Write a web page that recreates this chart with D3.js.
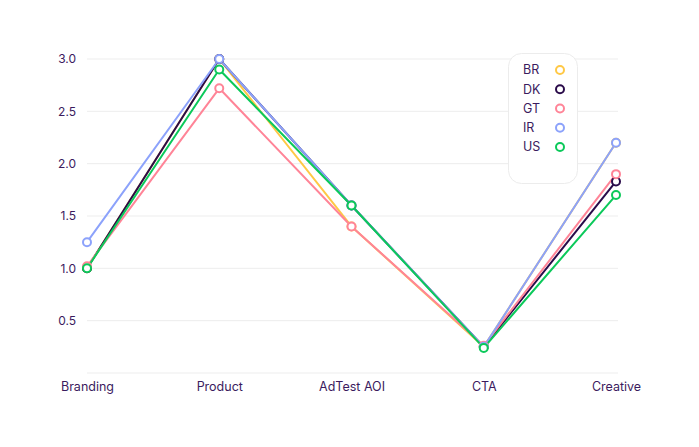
<!DOCTYPE html>
<html><head><meta charset="utf-8">
<script src="https://cdn.jsdelivr.net/npm/d3@7"></script>
<style>
html,body{margin:0;padding:0;background:#fff;}
svg{display:block;font-family:"Inter","Lato",sans-serif;}
</style></head>
<body><svg id="c" width="699" height="447"></svg>
<script>
const categories = ["Branding","Product","AdTest AOI","CTA","Creative"];
const seriesNames = ["BR","DK","GT","IR","US"];
const BR = [1.0, 3.0, 1.4, 0.25, 2.2];
const DK = [1.0, 3.0, 1.6, 0.25, 1.83];
const GT = [1.02, 2.72, 1.4, 0.26, 1.9];
const IR = [1.25, 3.0, 1.6, 0.25, 2.2];
const US = [1.0, 2.9, 1.6, 0.24, 1.7];
const yTicks = [0.5, 1.0, 1.5, 2.0, 2.5, 3.0];
const colors = ["#ffc845","#2a0b4a","#ff8497","#8ca2fb","#0bc95a"];
const seriesValues = [BR, DK, GT, IR, US];

const svg = d3.select("#c");
const textColor = "#3b1b5e";
const x = d3.scalePoint().domain(categories).range([87, 616]);
const y = d3.scaleLinear().domain([0, 3.0]).range([373, 59]);

// grid
svg.append("g").selectAll("line").data([0].concat(yTicks)).join("line")
  .attr("x1", 87).attr("x2", 618)
  .attr("y1", d => y(d)).attr("y2", d => y(d))
  .attr("stroke", "#ededed").attr("stroke-width", 1);

// y axis labels
const yAxis = d3.axisLeft(y).tickValues(yTicks).tickFormat(d3.format(".1f")).tickSize(0).tickPadding(0);
const yg = svg.append("g").attr("transform", "translate(76,0)").call(yAxis);
yg.select(".domain").remove();
yg.selectAll("text").attr("fill", textColor).attr("font-size", 12).attr("font-family", "Inter, Lato, sans-serif");

// x axis labels
const xAxis = d3.axisBottom(x).tickSize(0).tickPadding(0);
const xg = svg.append("g").attr("transform", "translate(0,382)").call(xAxis);
xg.select(".domain").remove();
xg.selectAll("text").attr("fill", textColor).attr("font-size", 12.5).attr("font-family", "Inter, Lato, sans-serif").attr("dy", "0.71em");

const line = d3.line().x((d, i) => x(categories[i])).y(d => y(d));

seriesValues.forEach((vals, si) => {
  const g = svg.append("g");
  g.append("path").datum(vals).attr("d", line)
    .attr("fill", "none").attr("stroke", colors[si]).attr("stroke-width", 2).attr("stroke-linejoin", "round");
});
seriesValues.forEach((vals, si) => {
  svg.append("g").selectAll("circle").data(vals).join("circle")
    .attr("cx", (d, i) => x(categories[i])).attr("cy", d => y(d)).attr("r", 4)
    .attr("fill", "#fff").attr("stroke", colors[si]).attr("stroke-width", 2);
});

// legend
const lg = svg.append("g");
lg.append("rect").attr("x", 508.5).attr("y", 53.5).attr("width", 69).attr("height", 130).attr("rx", 13)
  .attr("fill", "#fff").attr("stroke", "#ececec");
const ly = d3.scalePoint().domain(seriesNames).range([70, 147]);
seriesNames.forEach((n, i) => {
  lg.append("text").attr("x", 523).attr("y", ly(n)).attr("dy", "0.35em")
    .attr("fill", textColor).attr("font-size", 12.5).text(n);
  lg.append("circle").attr("cx", 560).attr("cy", ly(n)).attr("r", 4)
    .attr("fill", "#fff").attr("stroke", colors[i]).attr("stroke-width", 2);
});
</script></body></html>
